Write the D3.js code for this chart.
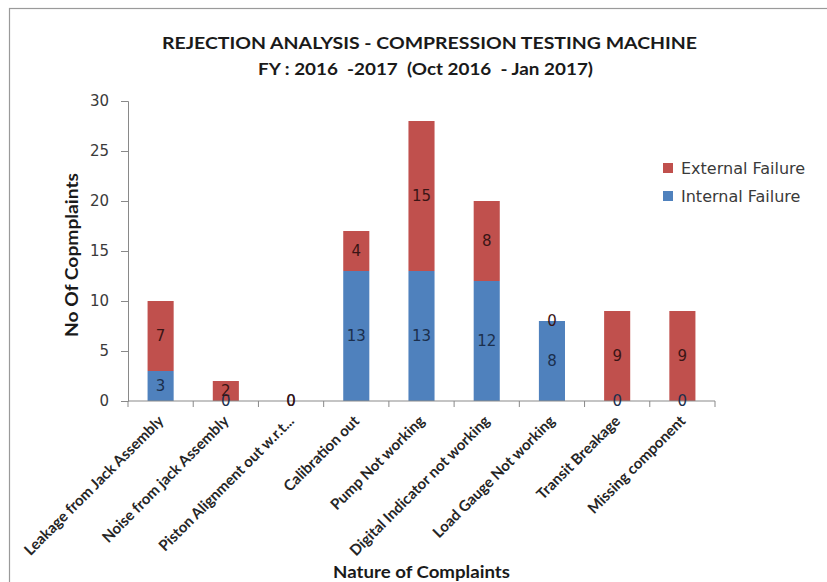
<!DOCTYPE html>
<html><head><meta charset="utf-8">
<script src="https://cdn.jsdelivr.net/npm/d3@7"></script>
<style>body{margin:0;background:#fff}svg{display:block}</style>
</head><body>
<svg id="c" width="827" height="582"></svg>
<script>
const categories = ["Leakage from Jack Assembly","Noise from jack Assembly","Piston Alignment out w.r.t...","Calibration out","Pump Not working","Digital Indicator not working","Load Gauge Not working","Transit Breakage","Missing component"];
const internalFailure = [3,0,0,13,13,12,8,0,0];
const externalFailure = [7,2,0,4,15,8,0,9,9];
const yTicks = [0,5,10,15,20,25,30];
const seriesNames = ["Internal Failure","External Failure"];
const colors = {"Internal Failure":"#4F81BD","External Failure":"#C0504D"};

const svg = d3.select("#c");
svg.append("rect").attr("x",9.5).attr("y",8.5).attr("width",830).attr("height",600)
  .attr("fill","#fff").attr("stroke","#9a9a9a").attr("stroke-width",1.2);

const m = {left:128, right:715, top:101, bottom:401};
const x = d3.scaleBand().domain(categories).range([m.left,m.right]).paddingInner(0.6).paddingOuter(0.3);
const xb = d3.scaleBand().domain(categories).range([m.left,m.right]);
const y = d3.scaleLinear().domain([0,30]).range([m.bottom,m.top]);

const rows = categories.map((c,i)=>({cat:c,"Internal Failure":internalFailure[i],"External Failure":externalFailure[i]}));
const stack = d3.stack().keys(seriesNames)(rows);

const font = "'DejaVu Sans', Verdana, sans-serif";
const tf = "Lato, 'Liberation Sans', Arial, sans-serif";

// bars
stack.forEach(s=>{
  svg.append("g").selectAll("rect").data(s).join("rect")
    .attr("x",d=>x(d.data.cat)).attr("width",x.bandwidth())
    .attr("y",d=>y(d[1])).attr("height",d=>y(d[0])-y(d[1]))
    .attr("fill",colors[s.key]);
});

// axes
const yAxis = d3.axisLeft(y).tickValues(yTicks).tickSize(7).tickPadding(12);
const gy = svg.append("g").attr("transform",`translate(${m.left},0)`).call(yAxis);
gy.select(".domain").attr("stroke","#898989");
gy.selectAll(".tick line").attr("stroke","#898989");
gy.selectAll("text").attr("font-family",font).attr("font-size",15).attr("fill","#3a3a3a");

const gx = svg.append("g").attr("transform",`translate(0,${m.bottom})`);
gx.append("line").attr("x1",m.left).attr("x2",m.right).attr("stroke","#898989");
gx.selectAll("line.t").data(categories.concat(["_end"])).join("line").attr("class","t")
  .attr("x1",(d,i)=>i<categories.length?xb(d):m.right).attr("x2",(d,i)=>i<categories.length?xb(d):m.right)
  .attr("y1",0).attr("y2",6).attr("stroke","#898989");
gx.selectAll("text").data(categories).join("text")
  .attr("transform",d=>`translate(${xb(d)+xb.bandwidth()/2+4},${21}) rotate(-45)`)
  .attr("text-anchor","end")
  .attr("font-family",tf).attr("font-weight","bold")
  .attr("font-size",15).attr("fill","#262626").text(d=>d);

// data labels
stack.forEach(s=>{
  svg.append("g").selectAll("text").data(s).join("text")
    .attr("x",d=>x(d.data.cat)+x.bandwidth()/2)
    .attr("y",d=>(y(d[0])+y(d[1]))/2)
    .attr("dy","0.36em").attr("text-anchor","middle")
    .attr("font-family",font).attr("font-size",15)
    .attr("fill",s.key==="Internal Failure"?"#1b2f4d":"#3a1515")
    .text(d=>d.data[s.key]);
});

// titles
svg.append("text").attr("x",429.5).attr("y",49).attr("text-anchor","middle")
  .attr("font-family",tf).attr("font-weight","bold").attr("font-size",17.5).attr("fill","#1a1a1a")
  .attr("textLength",535).attr("lengthAdjust","spacingAndGlyphs")
  .text("REJECTION ANALYSIS - COMPRESSION TESTING MACHINE");
svg.append("text").attr("x",425.5).attr("y",75).attr("text-anchor","middle")
  .attr("font-family",tf).attr("font-weight","bold").attr("font-size",17.5).attr("fill","#1a1a1a")
  .attr("textLength",335).attr("lengthAdjust","spacingAndGlyphs")
  .style("white-space","pre")
  .text("FY : 2016  -2017  (Oct 2016  - Jan 2017)");
svg.append("text").attr("transform","translate(78,255) rotate(-90)").attr("text-anchor","middle")
  .attr("font-family",tf).attr("font-weight","bold").attr("font-size",16.5).attr("fill","#1a1a1a")
  .attr("textLength",164).attr("lengthAdjust","spacingAndGlyphs")
  .text("No Of Copmplaints");
svg.append("text").attr("x",421.5).attr("y",578).attr("text-anchor","middle")
  .attr("font-family",tf).attr("font-weight","bold").attr("font-size",17).attr("fill","#1a1a1a")
  .attr("textLength",177).attr("lengthAdjust","spacingAndGlyphs")
  .text("Nature of Complaints");

// legend
const legendOrder = ["External Failure","Internal Failure"];
const lg = svg.append("g");
legendOrder.forEach((k,i)=>{
  lg.append("rect").attr("x",663).attr("y",163+i*28).attr("width",10).attr("height",10).attr("fill",colors[k]);
  lg.append("text").attr("x",681).attr("y",168+i*28).attr("dy","0.36em")
    .attr("font-family",font).attr("font-size",16).attr("fill","#3a3a3a").text(k);
});
</script>
</body></html>
